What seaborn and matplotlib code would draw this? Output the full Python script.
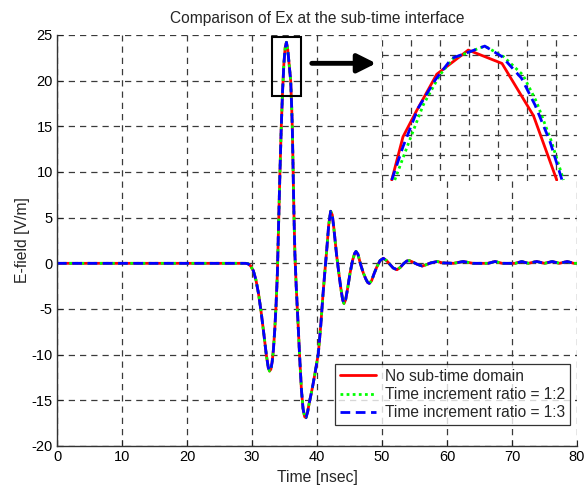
import numpy as np
import pandas as pd
import matplotlib
matplotlib.use("Agg")
import matplotlib.pyplot as plt
import seaborn as sns

# ---------------- data ----------------
# Main trace (the three series coincide at this scale)
main_t = [0, 29.0, 29.4, 29.8, 30.2, 30.6, 31.0, 31.4, 31.8, 32.2, 32.5, 32.7, 32.9,
          33.1, 33.3, 33.5, 33.7, 33.9, 34.1, 34.3, 34.5, 34.7, 34.9, 35.1, 35.3,
          35.5, 35.7, 35.95, 36.1, 36.2, 36.33, 36.45, 36.6, 36.8, 37.1, 37.35,
          37.6, 37.85, 38.1, 38.3, 38.55, 38.8, 39.1, 39.4, 39.7, 40.2, 40.6, 40.9,
          41.2, 41.5, 41.8, 42.1, 42.35, 42.6, 42.8, 43.0, 43.4, 43.7, 43.95, 44.15,
          44.4, 44.7, 45.1, 45.5, 45.8, 46.0, 46.3, 46.7, 47.1, 47.5, 47.8, 48.05,
          48.4, 48.8, 49.2, 49.7, 50.2, 50.7, 51.2, 51.7, 52.3, 52.8, 53.3, 53.8,
          54.2, 54.7, 55.4, 56.2, 56.8, 57.5, 58.5, 59.3, 61.0, 62.5, 64.0, 66.3,
          67.4, 68.5, 70.5, 71.5, 72.5, 73.8, 75.0, 76.2, 77.3, 78.5, 79.5, 80.0]
main_E = [0, 0, -0.05, -0.3, -0.8, -1.8, -3.3, -5.3, -7.6, -10.0, -11.4, -11.8, -11.6,
          -10.8, -9.4, -7.3, -4.6, -1.2, 4.5, 10.0, 14.9, 18.8, 21.8, 23.6, 24.2,
          23.4, 21.9, 20.0, 17.2, 14.9, 10.0, 5.5, 1.0, -2.5, -6.8, -10.5,
          -13.8, -15.9, -16.8, -16.9, -16.3, -15.3, -14.3, -13.2, -12.0, -9.9, -6.6, -3.6,
          -1.0, 1.5, 4.2, 5.7, 5.3, 3.8, 2.4, 1.0, -1.3, -2.9, -4.0, -4.4,
          -4.0, -2.8, -1.0, 0.4, 1.1, 1.3, 1.0, -0.1, -1.0, -1.7, -2.1, -2.2,
          -1.9, -1.1, -0.4, 0.3, 0.55, 0.3, -0.1, -0.5, -0.7, -0.45, -0.05, 0.25,
          0.3, 0.15, -0.1, -0.3, -0.15, 0.05, 0.2, 0.05, 0.0, 0.2, 0.0, 0.0,
          0.2, 0.0, 0.0, 0.2, 0.0, 0.2, 0.0, 0.2, 0.0, 0.2, 0.0, 0.0]

# Inset (zoom on the peak)
red_t = [34.03, 34.18, 34.36, 34.63, 35.05, 35.50, 35.92, 36.23]
red_E = [19.50, 21.02, 21.93, 23.22, 24.07, 23.60, 21.76, 19.50]
blue_t = [34.03, 34.18, 34.38, 34.61, 34.83, 35.07, 35.27, 35.50, 35.76, 35.94, 36.14, 36.30]
blue_E = [19.50, 20.67, 22.02, 23.02, 23.78, 24.01, 24.21, 23.84, 23.08, 22.14, 20.85, 19.50]
green_t = [34.07, 34.27, 34.45, 34.67, 34.85, 35.07, 35.27, 35.52, 35.78, 35.96, 36.16, 36.32]
green_E = [19.50, 20.91, 22.14, 23.19, 23.78, 24.01, 24.21, 23.84, 23.19, 22.25, 20.85, 19.50]

labels = ["No sub-time domain", "Time increment ratio = 1:2", "Time increment ratio = 1:3"]
x_ticks = [0, 10, 20, 30, 40, 50, 60, 70, 80]
y_ticks = [-20, -15, -10, -5, 0, 5, 10, 15, 20, 25]
title = "Comparison of Ex at the sub-time interface"
xlabel = "Time [nsec]"
ylabel = "E-field [V/m]"
zoom_box = (33.15, 18.37, 37.54, 24.73)   # t0, E0, t1, E1
arrow_from = (39.2, 21.9)
arrow_to = (49.1, 21.9)

# ---------------- style ----------------
sns.set_style("white")
plt.rcParams["font.family"] = ["Liberation Sans", "DejaVu Sans"]
plt.rcParams["font.size"] = 11
plt.rcParams["axes.unicode_minus"] = False

colors = ["#ff0000", "#00ff00", "#0000ff"]
styles = ["-", (0, (1, 1.2)), (0, (3.5, 2))]
grid_kw = dict(color="#3a3a3a", linestyle=(0, (5, 4)), linewidth=0.9)

fig = plt.figure(figsize=(5.85, 4.88), dpi=100)
ax = fig.add_axes([57 / 585, 1 - 446 / 488, 520 / 585, 411 / 488])

for lab, c, ls in zip(labels, colors, styles):
    sns.lineplot(x=main_t, y=main_E, ax=ax, color=c, linestyle=ls, linewidth=2.0,
                 label=lab, sort=False, estimator=None)

ax.set_xlim(0, 80)
ax.set_ylim(-20, 25)
ax.set_xticks(x_ticks)
ax.set_yticks(y_ticks)
ax.grid(True, **grid_kw)
for s in ["top", "right"]:
    ax.spines[s].set_visible(False)
for s in ["left", "bottom"]:
    ax.spines[s].set_color("#333333")
    ax.spines[s].set_linewidth(1.0)
ax.tick_params(direction="in", length=4, width=0.8, colors="#222222",
               labelcolor="black", labelsize=10.5, pad=3, top=False, right=False,
               bottom=True, left=True)
ax.set_xlabel(xlabel, fontsize=11.3, labelpad=4)
ax.set_ylabel(ylabel, fontsize=11.3, labelpad=1)
fig.text(317 / 585, 1 - 22.5 / 488, title, ha="center", va="baseline", fontsize=11.2)

# zoom box and arrow
t0, e0, t1, e1 = zoom_box
ax.add_patch(plt.Rectangle((t0, e0), t1 - t0, e1 - e0, fill=False, edgecolor="black",
                           linewidth=1.5, zorder=5, clip_on=False))
ax.annotate("", xy=arrow_to, xytext=arrow_from,
            arrowprops=dict(arrowstyle="-|>,head_length=0.4,head_width=0.2",
                            lw=3.5, color="black", mutation_scale=28,
                            shrinkA=0, shrinkB=0))

leg = ax.legend(loc="lower right", bbox_to_anchor=(0.9865, 0.051), frameon=True,
                fancybox=False, edgecolor="black", fontsize=11.2, handlelength=2.3,
                borderpad=0.3, labelspacing=0.22, handletextpad=0.6, borderaxespad=0)
leg.get_frame().set_linewidth(0.9)

# inset
axin = fig.add_axes([382 / 585, 1 - 181 / 488, 195 / 585, 146 / 488])
axin.set_facecolor("white")
for lab, c, ls, tt, ee in zip(labels, colors, styles,
                              [red_t, green_t, blue_t], [red_E, green_E, blue_E]):
    sns.lineplot(x=tt, y=ee, ax=axin, color=c, linestyle=ls, linewidth=2.0,
                 sort=False, estimator=None, legend=False)
axin.set_xlim(33.9, 33.9 + 195 / 75)
axin.set_ylim(24.6 - 146 / 28.43, 24.6)
axin.set_xticks(np.arange(33.9, 33.9 + 195 / 75 + 0.01, 29 / 75))
axin.set_yticks(np.arange(24.6, 24.6 - 146 / 28.43, -20 / 28.43))
axin.grid(True, **grid_kw)
axin.tick_params(length=0, labelbottom=False, labelleft=False)
axin.set_xlabel("")
axin.set_ylabel("")
for s in axin.spines.values():
    s.set_visible(False)

fig.savefig("out.png", dpi=100)
